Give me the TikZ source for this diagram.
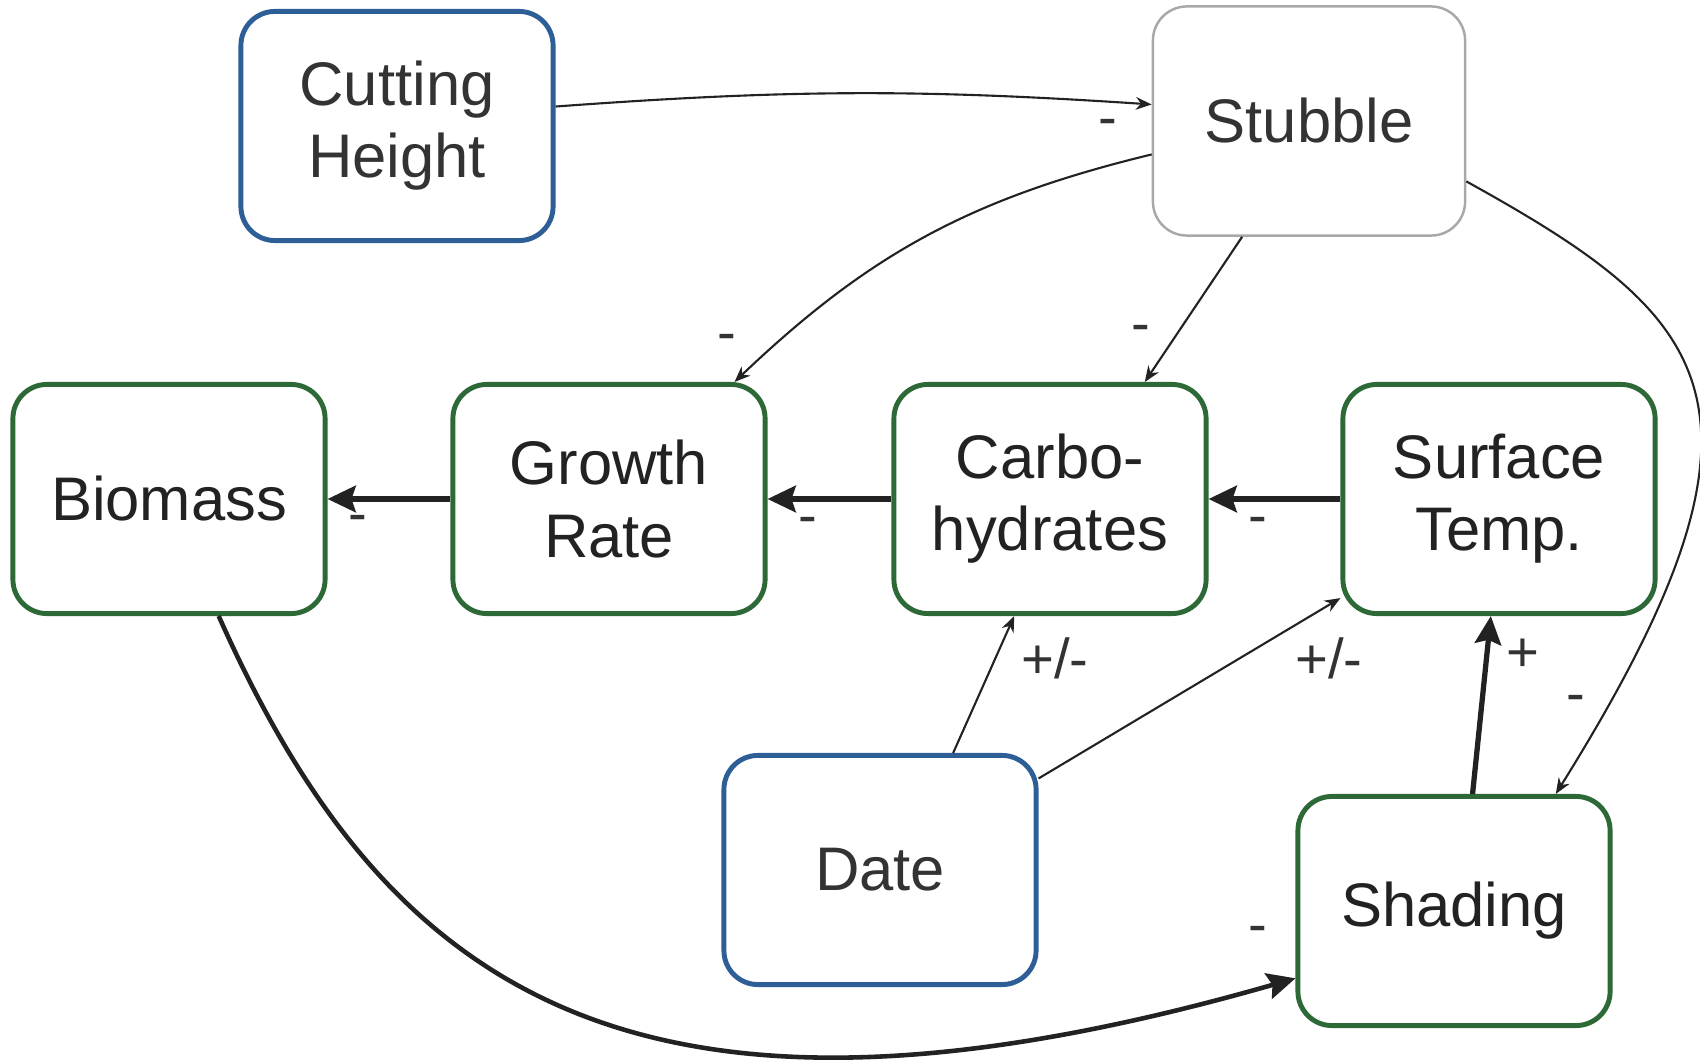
\documentclass[tikz,border=0pt]{standalone}
\usepackage{fontspec}
\setmainfont{Liberation Sans}
\usetikzlibrary{arrows.meta}
\definecolor{boxblue}{HTML}{2E5E96}
\definecolor{boxgreen}{HTML}{2D6937}
\definecolor{boxgray}{HTML}{A8A8A8}
\definecolor{ink}{HTML}{222222}
\definecolor{lightink}{HTML}{333333}
\begin{document}
\begin{tikzpicture}[x=0.01cm,y=0.01cm,
  box/.style={draw, rounded corners=0.34cm, minimum width=3.12cm, minimum height=2.29cm,
    align=center, font=\fontsize{17.5}{20.5}\selectfont, text=ink, inner sep=0pt, fill=white},
  bluebox/.style={box, draw=boxblue, line width=1.4pt, text=lightink},
  greenbox/.style={box, draw=boxgreen, line width=1.4pt},
  graybox/.style={box, draw=boxgray, line width=0.7pt, text=lightink},
  thinarrow/.style={draw=ink, line width=0.6pt, -{Stealth[length=4.5pt,width=3.6pt]}},
  thickarrow/.style={draw=ink, line width=1.5pt, -{Stealth[length=8pt,width=7.5pt,inset=1.2pt]}},
  lbl/.style={font=\fontsize{16}{18}\selectfont, text=lightink, inner sep=0pt}]
\useasboundingbox (0,0) rectangle (1700,1060);
\node[bluebox] (ch) at (397,934) {Cutting\\Height};
\node[graybox] (st) at (1309,939) {Stubble};
\node[greenbox] (bio) at (169,561) {Biomass};
\node[greenbox] (gr) at (609,561) {Growth\\Rate};
\node[greenbox] (ca) at (1050,561) {Carbo-\\hydrates};
\node[greenbox] (stp) at (1499,561) {Surface\\Temp.};
\node[bluebox] (date) at (880,190) {Date};
\node[greenbox] (sh) at (1454,149) {Shading};

\draw[thinarrow] (ch.7) to[bend left=4] (st.174);
\draw[thinarrow] (st.192) to[bend right=15] (gr.43);
\draw[thinarrow] (st.240) -- (ca.51);
\draw[thinarrow] (st.-21) .. controls +(-29:280) and +(58:460) .. (sh.49);
\draw[thickarrow] (gr.west) -- (bio.east);
\draw[thickarrow] (ca.west) -- (gr.east);
\draw[thickarrow] (stp.west) -- (ca.east);
\draw[thinarrow] (date.58) -- (ca.253);
\draw[thinarrow] (date.30) -- (stp.212);
\draw[thickarrow] (sh.81) -- (stp.266);
\draw[thickarrow, line width=1.3pt] (bio.293) .. controls +(-66:410) and +(196:690) .. (sh.203);

\node[lbl] (l1) at (1108,932) {-};
\node[lbl] (l2) at (727,717) {-};
\node[lbl] (l3) at (1141,726) {-};
\node[lbl] (l4) at (1576,356) {-};
\node[lbl] (l5) at (358,536) {-};
\node[lbl] (l6) at (808,534) {-};
\node[lbl] (l7) at (1258,534) {-};
\node[lbl] (l8) at (1055,402) {+/-};
\node[lbl] (l9) at (1329,402) {+/-};
\node[lbl] (l10) at (1523,405) {+};
\node[lbl] (l11) at (1258,125) {-};
\end{tikzpicture}
\end{document}
